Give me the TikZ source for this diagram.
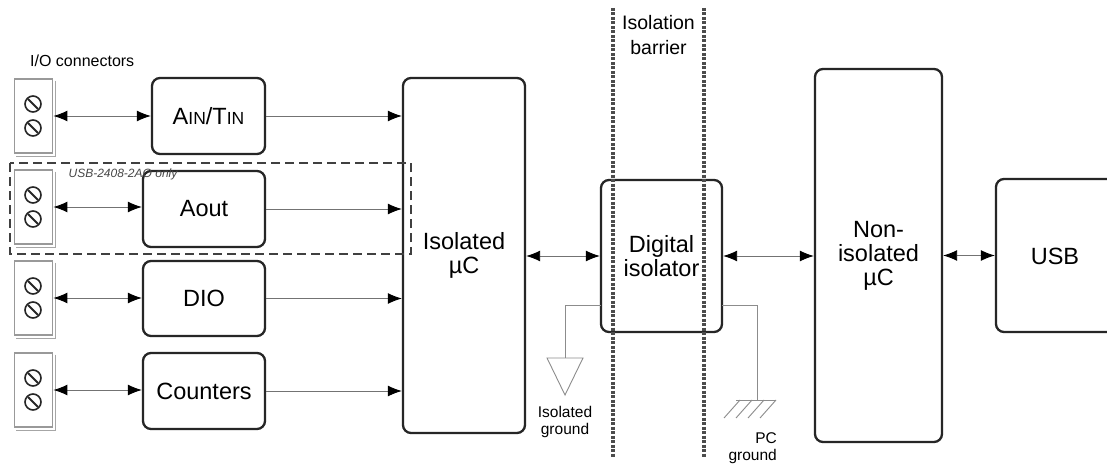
\documentclass[tikz,border=0pt]{standalone}
\usepackage{fontspec}
\setmainfont{Liberation Sans}
\usetikzlibrary{arrows.meta}
\begin{document}
\begin{tikzpicture}[x=1pt,y=-1pt,
  blk/.style={draw=black!85,line width=2.3pt,rounded corners=8pt,fill=white,inner sep=0pt,font=\fontsize{23.5}{26}\selectfont,align=center},
  conn/.style={draw=black!40,line width=1.8pt,fill=white,inner sep=0pt,minimum width=38pt,minimum height=74pt},
  sig/.style={draw=black!55,line width=0.9pt,-{Latex[length=14pt,width=11pt,black]}},
  dbl/.style={draw=black!55,line width=0.9pt,{Latex[length=14pt,width=11pt,black]}-{Latex[length=14pt,width=11pt,black]}},
  gnd/.style={draw=black!45,line width=0.9pt},
  barrier/.style={draw=black!70,line width=3.2pt,dash pattern=on 3pt off 1.5pt},
  small/.style={font=\fontsize{15.5}{18}\selectfont,align=center,inner sep=0pt}]
\useasboundingbox (0,0) rectangle (1107,465);
\fill[white] (0,0) rectangle (1107,465);

% connectors
\foreach \n/\y in {c1/116,c2/207,c3/298,c4/390}{
  \node[conn] (\n) at (33.5,\y) {};
  \draw[black!35,line width=1pt] ([xshift=2.5pt,yshift=-2.5pt]\n.north east) -- ([xshift=2.5pt,yshift=-2.5pt]\n.south east) -- ([xshift=2.5pt,yshift=-2.5pt]\n.south west);
  \foreach \d in {-12,12}{
    \draw[black!85,line width=1.6pt] (33,\y+\d) circle (8pt);
    \draw[black!85,line width=2pt] (28,\y+\d-5) -- (38,\y+\d+5);
  }
}
\node[font=\fontsize{16}{18}\selectfont,inner sep=0pt,anchor=south west] (iolabel) at (30,67) {I/O connectors};

% left blocks
\node[blk,minimum width=113pt,minimum height=76pt] (ain) at (208.5,116) {A{\fontsize{17.5}{20}\selectfont IN}/T{\fontsize{17.5}{20}\selectfont IN}};
\node[blk,minimum width=122pt,minimum height=76pt] (aout) at (204,209) {Aout};
\node[blk,minimum width=122pt,minimum height=75pt] (dio) at (204,298.5) {DIO};
\node[blk,minimum width=122pt,minimum height=76pt] (cnt) at (204,391) {Counters};

% central blocks
\node[blk,minimum width=122pt,minimum height=355pt] (iso) at (464,255.5) {Isolated\\[-2pt]µC};
\node[blk,minimum width=121pt,minimum height=152pt] (dig) at (661.5,256) {Digital\\[-2pt]isolator};
\node[blk,minimum width=127pt,minimum height=373pt] (non) at (878.5,255.5) {Non-\\[-2pt]isolated\\[-2pt]µC};
\node[blk,minimum width=150pt,minimum height=153pt] (usb) at (1071,255.5) {};
\node[font=\fontsize{23.5}{26}\selectfont,inner sep=0pt] (usbt) at (1055,256) {USB};

% dashed option box
\draw[black!75,line width=2pt,dash pattern=on 9pt off 5pt] (10,163) rectangle (411,254);
\node[font=\fontsize{12}{14}\selectfont\itshape,text=black!72,inner sep=0pt] (opt) at (123,174) {USB-2408-2AO only};

% connectors to blocks
\draw[dbl] (c1.east) -- (ain.west);
\draw[dbl] (c2.east) -- (c2.east -| aout.west);
\draw[dbl] (c3.east) -- (c3.east -| dio.west);
\draw[dbl] (c4.east) -- (c4.east -| cnt.west);

% blocks to isolated uC
\draw[sig] (ain.east) -- (ain.east -| iso.west);
\draw[sig] (aout.east) -- (aout.east -| iso.west);
\draw[sig] (dio.east) -- (dio.east -| iso.west);
\draw[sig] (cnt.east) -- (cnt.east -| iso.west);

% chain
\draw[dbl] (iso.east |- dig.west) -- (dig.west);
\draw[dbl] (dig.east) -- (dig.east -| non.west);
\draw[dbl] (non.east |- usb.west) -- (usb.west);

% isolation barrier
\draw[barrier] (613,8) -- (613,457);
\draw[barrier] (704,8) -- (704,457);
\node[font=\fontsize{19.5}{25}\selectfont,align=center,inner sep=0pt] (barlabel) at (658.5,35) {Isolation\\barrier};

% isolated ground
\coordinate (ig0) at (601,305);
\coordinate (ig1) at (565,358);
\draw[gnd] (ig0) -| (ig1);
\draw[gnd] (547,358) -- (583,358) -- (565,395) -- cycle;
\node[small] (iglabel) at (565,422) {Isolated\\[-1pt]ground};

% PC ground
\coordinate (pg0) at (722,305);
\coordinate (pg1) at (757,400);
\draw[gnd] (pg0) -| (pg1);
\draw[gnd] (736,400) -- (776,400);
\foreach \x in {740,752,764,776}{\draw[gnd] (\x,400) -- (\x-16,418);}
\node[small,align=right,anchor=north east] (pglabel) at (777,432) {PC\\[-1pt]ground};
\end{tikzpicture}
\end{document}
